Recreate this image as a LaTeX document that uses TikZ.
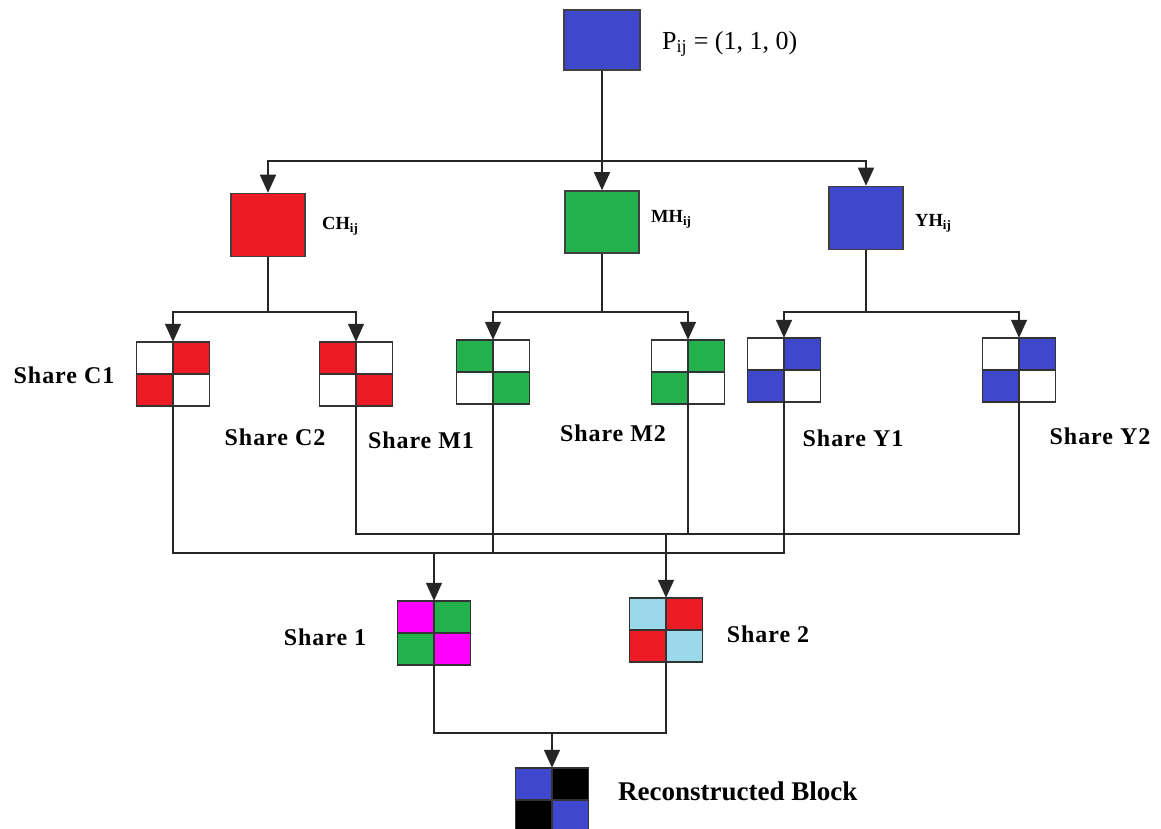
\documentclass[tikz,border=0pt]{standalone}
\usepackage{fontspec}
\setmainfont{Liberation Serif}
\newfontfamily\spfont[LetterSpace=4]{Liberation Serif}
\usetikzlibrary{arrows.meta}
\definecolor{cred}{HTML}{ED1C24}
\definecolor{cgreen}{HTML}{22B14C}
\definecolor{cblue}{HTML}{3F48CC}
\definecolor{cmag}{HTML}{FF00FF}
\definecolor{clblue}{HTML}{99D9EA}
\tikzset{
  conn/.style={line width=1.3pt, draw=black!85},
  arr/.style={conn, -{Triangle[length=18pt,width=16pt]}},
  bigbox/.style={draw=black!75, line width=1.5pt, minimum width=74pt, minimum height=63pt, inner sep=0pt},
  gridbox/.style={minimum width=73pt, minimum height=64pt, inner sep=0pt},
  gridline/.style={line width=1.5pt, draw=black!80},
  sharelbl/.style={font=\spfont\bfseries\fontsize{24}{28}\selectfont, inner sep=0pt},
  hlbl/.style={font=\bfseries\fontsize{18.5}{22}\selectfont, anchor=west, inner sep=0pt},
}
\newcommand\qgrid[7]{%
  \node[gridbox] (#1) at (#2,#3) {};
  \fill[#4] (#1.north west) rectangle (#1.center);
  \fill[#5] (#1.north) rectangle (#1.east);
  \fill[#6] (#1.west) rectangle (#1.south);
  \fill[#7] (#1.center) rectangle (#1.south east);
  \draw[gridline] (#1.north) -- (#1.south) (#1.west) -- (#1.east);
  \draw[gridline] (#1.north west) rectangle (#1.south east);
}
\begin{document}
\begin{tikzpicture}[x=1pt,y=-1pt]
\useasboundingbox[fill=white] (0,0) rectangle (1161,829);
% top
\node[bigbox, fill=cblue, minimum width=76pt, minimum height=60pt] (P) at (602,40) {};
\node[anchor=west, inner sep=0pt, font=\fontsize{26}{30}\selectfont] (Plbl) at (662,44) {P\textsubscript{ij} = (1, 1, 0)};
% second row
\node[bigbox, fill=cred] (CH) at (268,225) {};
\node[bigbox, fill=cgreen, minimum height=62pt] (MH) at (602,222) {};
\node[bigbox, fill=cblue] (YH) at (866,218) {};
\node[hlbl] (CHl) at (322,226) {CH\textsubscript{ij}};
\node[hlbl] (MHl) at (651,219) {MH\textsubscript{ij}};
\node[hlbl] (YHl) at (915,223) {YH\textsubscript{ij}};
% shares
\qgrid{C1}{173}{374}{white}{cred}{cred}{white}
\qgrid{C2}{356}{374}{cred}{white}{white}{cred}
\qgrid{M1}{493}{372}{cgreen}{white}{white}{cgreen}
\qgrid{M2}{688}{372}{white}{cgreen}{cgreen}{white}
\qgrid{Y1}{784}{370}{white}{cblue}{cblue}{white}
\qgrid{Y2}{1019}{370}{white}{cblue}{cblue}{white}
\node[sharelbl] (C1l) at (64,375) {Share C1};
\node[sharelbl] (C2l) at (275,437) {Share C2};
\node[sharelbl] (M1l) at (421,440) {Share M1};
\node[sharelbl] (M2l) at (613,433) {Share M2};
\node[sharelbl] (Y1l) at (853,438) {Share Y1};
\node[sharelbl] (Y2l) at (1100,436) {Share Y2};
% merged shares
\qgrid{S1}{434}{633}{cmag}{cgreen}{cgreen}{cmag}
\qgrid{S2}{666}{630}{clblue}{cred}{cred}{clblue}
\node[sharelbl] (S1l) at (325,637) {Share 1};
\node[sharelbl] (S2l) at (768,634) {Share 2};
% reconstructed
\qgrid{R}{552}{800}{cblue}{black}{black}{cblue}
\node[anchor=west, inner sep=0pt, font=\bfseries\fontsize{27}{31}\selectfont] (Rl) at (618,791) {Reconstructed Block};
% connectors
\coordinate (b0) at (602,161);
\draw[conn] (P.south) -- (b0);
\draw[arr] (b0) -| (CH.north);
\draw[arr] (b0) -- (MH.north);
\draw[arr] (b0) -| (YH.north);
\coordinate (bc) at (268,312);
\coordinate (bm) at (602,312);
\coordinate (by) at (866,312);
\draw[conn] (CH.south) -- (bc);
\draw[conn] (MH.south) -- (bm);
\draw[conn] (YH.south) -- (by);
\draw[arr] (bc) -| (C1.north);
\draw[arr] (bc) -| (C2.north);
\draw[arr] (bm) -| (M1.north);
\draw[arr] (bm) -| (M2.north);
\draw[arr] (by) -| (Y1.north);
\draw[arr] (by) -| (Y2.north);
\coordinate (m1) at (434,553);
\coordinate (m2) at (666,534);
\draw[conn] (C1.south) |- (m1);
\draw[conn] (M1.south) |- (m1);
\draw[conn] (Y1.south) |- (m1);
\draw[conn] (C2.south) |- (m2);
\draw[conn] (M2.south) |- (m2);
\draw[conn] (Y2.south) |- (m2);
\draw[arr] (m1) -- (S1.north);
\draw[arr] (m2) -- (S2.north);
\coordinate (m3) at (552,733);
\draw[conn] (S1.south) |- (m3);
\draw[conn] (S2.south) |- (m3);
\draw[arr] (m3) -- (R.north);
\end{tikzpicture}
\end{document}
